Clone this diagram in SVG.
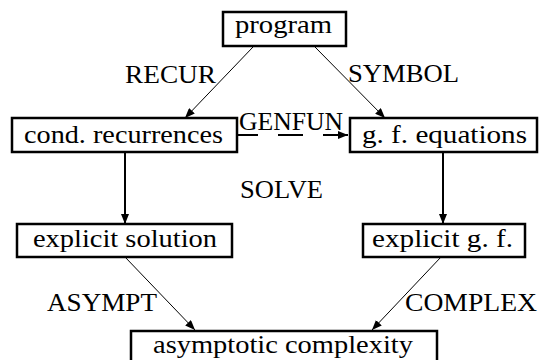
<svg xmlns="http://www.w3.org/2000/svg" width="543" height="360" viewBox="0 0 543 360" font-family="Liberation Serif, DejaVu Serif, serif">
<style>
.box{fill:#fff;stroke:#000;stroke-width:2.5}
text{font-size:26px;fill:#000}
.thin{fill:none;stroke:#000;stroke-width:1}
.thick{fill:none;stroke:#000;stroke-width:2}
.dash{fill:none;stroke:#000;stroke-width:2;stroke-dasharray:25 20}
</style>
<defs>
<marker id="ah" markerUnits="userSpaceOnUse" markerWidth="10" markerHeight="8" refX="10" refY="4" orient="auto">
<path d="M0,0 L10,4 L0,8 z" fill="#000"/>
</marker>
</defs>
<rect width="543" height="360" fill="#fff"/>
<g id="connectors">
<line class="thin" x1="253" y1="47" x2="185" y2="118" marker-end="url(#ah)"/>
<line class="thin" x1="315" y1="47" x2="385" y2="118" marker-end="url(#ah)"/>
<line class="dash" x1="233" y1="135" x2="348" y2="135" marker-end="url(#ah)"/>
<line class="thick" x1="125" y1="152" x2="125" y2="224" marker-end="url(#ah)"/>
<line class="thick" x1="443" y1="152" x2="443" y2="224" marker-end="url(#ah)"/>
<line class="thin" x1="125" y1="257" x2="195" y2="330" marker-end="url(#ah)"/>
<line class="thin" x1="441" y1="257" x2="372" y2="330" marker-end="url(#ah)"/>
<text x="125" y="83" textLength="91" lengthAdjust="spacingAndGlyphs">RECUR</text>
<text x="348" y="82" textLength="111" lengthAdjust="spacingAndGlyphs">SYMBOL</text>
<text x="239" y="130" textLength="104" lengthAdjust="spacingAndGlyphs">GENFUN</text>
<text x="240" y="198" textLength="83" lengthAdjust="spacingAndGlyphs">SOLVE</text>
<text x="47" y="311" textLength="110" lengthAdjust="spacingAndGlyphs">ASYMPT</text>
<text x="405" y="311" textLength="132" lengthAdjust="spacingAndGlyphs">COMPLEX</text>
</g>
<g id="program">
<rect class="box" x="223" y="12" width="123" height="34"/>
<text x="235" y="33" textLength="97" lengthAdjust="spacingAndGlyphs">program</text>
</g>
<g id="cond">
<rect class="box" x="12" y="118" width="225" height="34"/>
<text x="24" y="143" textLength="199" lengthAdjust="spacingAndGlyphs">cond. recurrences</text>
</g>
<g id="gfeq">
<rect class="box" x="350" y="118" width="187" height="34"/>
<text x="362" y="143" textLength="165" lengthAdjust="spacingAndGlyphs">g. f. equations</text>
</g>
<g id="expsol">
<rect class="box" x="17" y="224" width="215" height="33"/>
<text x="33" y="247" textLength="184" lengthAdjust="spacingAndGlyphs">explicit solution</text>
</g>
<g id="expgf">
<rect class="box" x="363" y="224" width="162" height="33"/>
<text x="372" y="247" textLength="141" lengthAdjust="spacingAndGlyphs">explicit g. f.</text>
</g>
<g id="asymp">
<rect class="box" x="131" y="331" width="306" height="36"/>
<text x="153" y="353" textLength="260" lengthAdjust="spacingAndGlyphs">asymptotic complexity</text>
</g>
</svg>
